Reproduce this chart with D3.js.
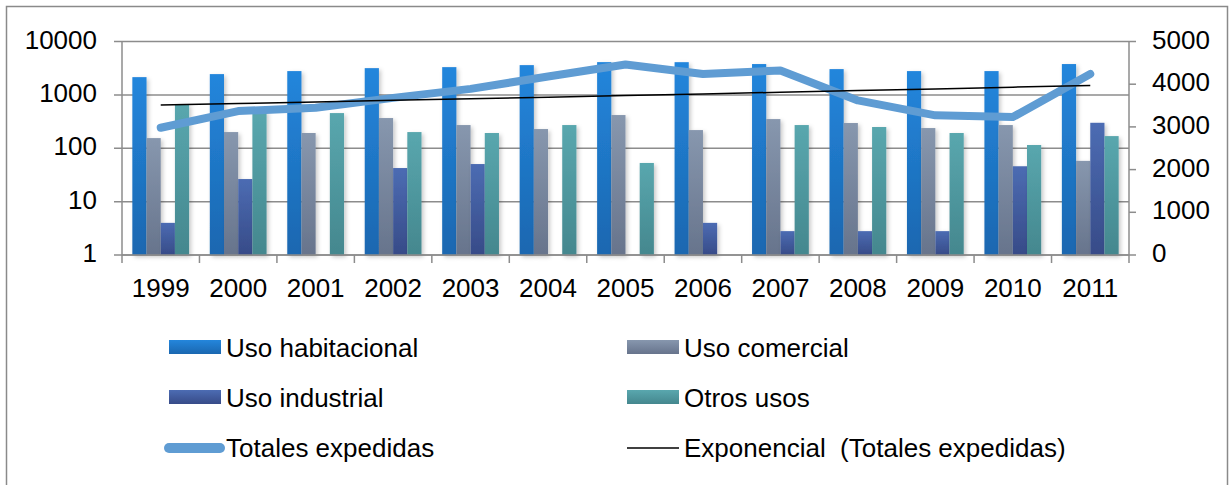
<html>
<head>
<script src="https://d3js.org/d3.v7.min.js"></script>
<style>
body { margin: 0; background: #fff; }
text { font-family: 'Liberation Sans', Arial, sans-serif; fill: #000; }
</style>
</head>
<body>
<div id="chart"></div>
<script>

var years = ["1999","2000","2001","2002","2003","2004","2005","2006","2007","2008","2009","2010","2011"];
var habitacional = [2150, 2450, 2790, 3170, 3310, 3610, 4110, 4100, 3780, 3040, 2790, 2790, 3780];
var comercial = [155, 201, 193, 368, 272, 229, 419, 219, 352, 297, 239, 272, 58];
var industrial = [4, 26.5, 0, 42.6, 50.6, 0, 0, 4, 2.8, 2.8, 2.8, 46, 300];
var otros = [673, 505, 456, 201, 193, 272, 53, 0, 272, 250, 193, 115, 169];
var totales = [2980, 3370, 3450, 3680, 3890, 4180, 4460, 4240, 4320, 3620, 3270, 3230, 4240];
var leftTicks = [1, 10, 100, 1000, 10000];
var rightTicks = [0, 1000, 2000, 3000, 4000, 5000];

var series = [
  { name: "Uso habitacional", values: habitacional, top: "#2486dc", bottom: "#1a67b0" },
  { name: "Uso comercial", values: comercial, top: "#8797ae", bottom: "#67748c" },
  { name: "Uso industrial", values: industrial, top: "#4c6cb3", bottom: "#374b88" },
  { name: "Otros usos", values: otros, top: "#59a7ae", bottom: "#44878e" }
];

var width = 1229, height = 485;
var plotLeft = 122, plotRight = 1129, plotTop = 41.5, plotBottom = 255;

var svg = d3.select("#chart").append("svg")
  .attr("width", width).attr("height", height);

var defs = svg.append("defs");
series.forEach(function (s, i) {
  var g = defs.append("linearGradient").attr("id", "grad" + i)
    .attr("x1", 0).attr("y1", 0).attr("x2", 0).attr("y2", 1);
  g.append("stop").attr("offset", "0%").attr("stop-color", s.top);
  g.append("stop").attr("offset", "100%").attr("stop-color", s.bottom);
});
var shadow = defs.append("filter").attr("id", "shadow")
  .attr("x", "-20%").attr("y", "-5%").attr("width", "160%").attr("height", "115%");
shadow.append("feDropShadow").attr("dx", 2).attr("dy", 2).attr("stdDeviation", 2)
  .attr("flood-color", "#000").attr("flood-opacity", 0.22);

// outer frame
svg.append("path")
  .attr("d", "M6.5," + (height + 5) + "V6.5H" + (width - 1.5) + "V" + (height + 5))
  .attr("fill", "none").attr("stroke", "#8a8a8a").attr("stroke-width", 1.5);

var x = d3.scaleBand().domain(years).range([plotLeft, plotRight]);
var inner = d3.scaleBand().domain(d3.range(4)).range([0, x.bandwidth() * 0.733]);
var groupOffset = (x.bandwidth() - x.bandwidth() * 0.733) / 2;
var yLog = d3.scaleLog().domain([1, 10000]).range([plotBottom, plotTop]);
var yRight = d3.scaleLinear().domain([0, 5000]).range([plotBottom, plotTop]);

// gridlines
svg.append("g").selectAll("line").data(leftTicks).enter().append("line")
  .attr("x1", plotLeft - 8).attr("x2", plotRight)
  .attr("y1", function (d) { return yLog(d); })
  .attr("y2", function (d) { return yLog(d); })
  .attr("stroke", "#8c8c8c").attr("stroke-width", 1.5);

// bars
series.forEach(function (s, i) {
  svg.append("g").attr("filter", "url(#shadow)")
    .selectAll("rect")
    .data(s.values.map(function (v, j) { return { year: years[j], v: v }; })
      .filter(function (d) { return d.v > 0; }))
    .enter().append("rect")
    .attr("x", function (d) { return x(d.year) + groupOffset + inner(i); })
    .attr("width", inner.bandwidth())
    .attr("y", function (d) { return yLog(d.v); })
    .attr("height", function (d) { return plotBottom - yLog(d.v); })
    .attr("fill", "url(#grad" + i + ")");
});

// axes lines and ticks
var axisColor = "#8c8c8c";
svg.append("line").attr("x1", plotLeft).attr("x2", plotLeft).attr("y1", plotTop).attr("y2", plotBottom + 8)
  .attr("stroke", axisColor).attr("stroke-width", 1.5);
svg.append("line").attr("x1", plotRight).attr("x2", plotRight).attr("y1", plotTop).attr("y2", plotBottom + 8)
  .attr("stroke", axisColor).attr("stroke-width", 1.5);
svg.append("line").attr("x1", plotLeft).attr("x2", plotRight).attr("y1", plotBottom).attr("y2", plotBottom)
  .attr("stroke", axisColor).attr("stroke-width", 1.5);
svg.append("g").selectAll("line").data(years.slice(1)).enter().append("line")
  .attr("x1", function (d) { return x(d); }).attr("x2", function (d) { return x(d); })
  .attr("y1", plotBottom).attr("y2", plotBottom + 8)
  .attr("stroke", axisColor).attr("stroke-width", 1.5);
svg.append("g").selectAll("line").data(rightTicks).enter().append("line")
  .attr("x1", plotRight).attr("x2", plotRight + 7)
  .attr("y1", function (d) { return yRight(d); }).attr("y2", function (d) { return yRight(d); })
  .attr("stroke", axisColor).attr("stroke-width", 1.5);

// axis labels
svg.append("g").selectAll("text").data(leftTicks).enter().append("text")
  .attr("x", 97).attr("y", function (d) { return yLog(d) + 7; })
  .attr("text-anchor", "end").attr("font-size", 26)
  .text(function (d) { return d; });
svg.append("g").selectAll("text").data(rightTicks).enter().append("text")
  .attr("x", 1152).attr("y", function (d) { return yRight(d) + 7; })
  .attr("font-size", 26)
  .text(function (d) { return d; });
svg.append("g").selectAll("text").data(years).enter().append("text")
  .attr("x", function (d) { return x(d) + x.bandwidth() / 2; }).attr("y", 297)
  .attr("text-anchor", "middle").attr("font-size", 26)
  .text(function (d) { return d; });

// totals line
var cx = function (d, i) { return x(years[i]) + x.bandwidth() / 2; };
svg.append("path")
  .attr("d", d3.line().x(cx).y(function (d) { return yRight(d); })(totales))
  .attr("fill", "none").attr("stroke", "#5f9cd3").attr("stroke-width", 8)
  .attr("stroke-linecap", "round").attr("stroke-linejoin", "round");

// exponential trendline fitted to totals
var xs = d3.range(1, totales.length + 1);
var ly = totales.map(Math.log);
var mx = d3.mean(xs), my = d3.mean(ly);
var b = d3.sum(xs, function (v, i) { return (v - mx) * (ly[i] - my); }) /
  d3.sum(xs, function (v) { return (v - mx) * (v - mx); });
var a = my - b * mx;
var trend = xs.map(function (v) { return Math.exp(a + b * v); });
svg.append("path")
  .attr("d", d3.line().x(cx).y(function (d) { return yRight(d); })(trend))
  .attr("fill", "none").attr("stroke", "#000").attr("stroke-width", 1.5);

// legend
var legend = svg.append("g");
var cols = [169, 627];
var rows = [357, 407, 457];
series.forEach(function (s, i) {
  var lx = cols[i % 2], ry = rows[Math.floor(i / 2)];
  legend.append("rect").attr("x", lx).attr("y", ry - 17).attr("width", 52).attr("height", 14)
    .attr("fill", "url(#grad" + i + ")");
  legend.append("text").attr("x", lx + 57).attr("y", ry).attr("font-size", 26).text(s.name);
});
legend.append("line").attr("x1", 169).attr("x2", 220).attr("y1", rows[2] - 9).attr("y2", rows[2] - 9)
  .attr("stroke", "#5f9cd3").attr("stroke-width", 10).attr("stroke-linecap", "round");
legend.append("text").attr("x", 226).attr("y", rows[2]).attr("font-size", 26).text("Totales expedidas");
legend.append("line").attr("x1", 627).attr("x2", 679).attr("y1", rows[2] - 9).attr("y2", rows[2] - 9)
  .attr("stroke", "#000").attr("stroke-width", 1.5);
legend.append("text").attr("x", 684).attr("y", rows[2]).attr("font-size", 26)
  .style("white-space", "pre").text("Exponencial  (Totales expedidas)");

</script>
</body>
</html>
